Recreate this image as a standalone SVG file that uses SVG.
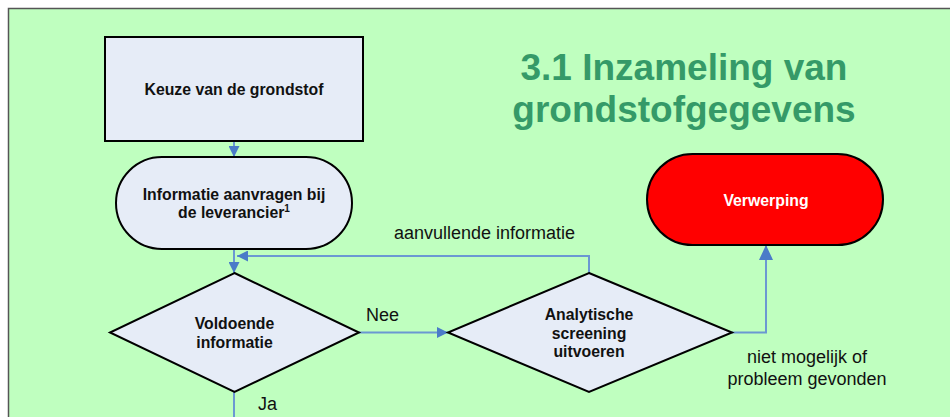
<svg xmlns="http://www.w3.org/2000/svg" width="950" height="417" viewBox="0 0 950 417">
<style>
.node{fill:#E6ECF7;stroke:#000;stroke-width:2}
.nt{font-family:"Liberation Sans",Arial,sans-serif;font-weight:bold;font-size:15.8px;fill:#111;text-anchor:middle}
.lbl{font-family:"Liberation Sans",Arial,sans-serif;font-size:18px;fill:#111}
.conn{fill:none;stroke:#6B98D2;stroke-width:2}
.title{font-family:"Liberation Sans",Arial,sans-serif;font-weight:bold;font-size:37px;fill:#359A68;text-anchor:middle}
</style>
<defs>
<marker id="ah" markerUnits="userSpaceOnUse" markerWidth="12" markerHeight="11" refX="11" refY="5.5" orient="auto">
<path d="M0,0 L11,5.5 L0,11 Z" fill="#4A7BC8"/>
</marker>
<marker id="ahL" markerUnits="userSpaceOnUse" markerWidth="16" markerHeight="14" refX="15" refY="7" orient="auto">
<path d="M0,0 L15,7 L0,14 Z" fill="#4A7BC8"/>
</marker>
</defs>
<rect x="0" y="0" width="950" height="417" fill="#FFFFFF"/>
<rect x="8.5" y="8.5" width="960" height="420" fill="#BFFFBF" stroke="#555" stroke-width="1.5"/>
<text class="title" x="684" y="80">3.1 Inzameling van</text>
<text class="title" x="684" y="122">grondstofgegevens</text>
<g id="connectors">
<path class="conn" d="M234,141 L234,157" marker-end="url(#ah)"/>
<path class="conn" d="M234,249 L234,273" marker-end="url(#ah)"/>
<path class="conn" d="M589,273 L589,256 L237,256" marker-end="url(#ah)"/>
<path class="conn" d="M359,332.5 L448,332.5" marker-end="url(#ah)"/>
<path class="conn" d="M732,332.5 L766,332.5 L766,245" marker-end="url(#ahL)"/>
<path class="conn" d="M234,392 L234,417"/>
</g>
<g id="n-keuze">
<rect class="node" x="105" y="37" width="258" height="104"/>
<text class="nt" x="234" y="95">Keuze van de grondstof</text>
</g>
<g id="n-informatie">
<rect class="node" x="116" y="157" width="236" height="92" rx="46" ry="46"/>
<text class="nt" x="234" y="200">Informatie aanvragen bij</text>
<text class="nt" x="234" y="218">de leverancier<tspan font-size="10" dy="-6">1</tspan></text>
</g>
<g id="n-voldoende">
<polygon class="node" points="234.5,273 359,332.5 234.5,392 110,332.5"/>
<text class="nt" x="234.5" y="329">Voldoende</text>
<text class="nt" x="234.5" y="347.5">informatie</text>
</g>
<g id="n-analytische">
<polygon class="node" points="589,273 732,332.5 589,392 448,332.5"/>
<text class="nt" x="589" y="320">Analytische</text>
<text class="nt" x="589" y="338.5">screening</text>
<text class="nt" x="589" y="356.5">uitvoeren</text>
</g>
<g id="n-verwerping">
<rect x="647" y="154" width="236" height="91" rx="45.5" ry="45.5" fill="#FF0000" stroke="#000" stroke-width="2"/>
<text class="nt" x="766" y="206" fill="#FFFFFF" style="fill:#FFFFFF">Verwerping</text>
</g>
<g id="labels">
<text class="lbl" x="484.5" y="239" text-anchor="middle">aanvullende informatie</text>
<text class="lbl" x="366" y="321">Nee</text>
<text class="lbl" x="258" y="410">Ja</text>
<text class="lbl" x="807" y="363" text-anchor="middle">niet mogelijk of</text>
<text class="lbl" x="807" y="385" text-anchor="middle">probleem gevonden</text>
</g>
</svg>
